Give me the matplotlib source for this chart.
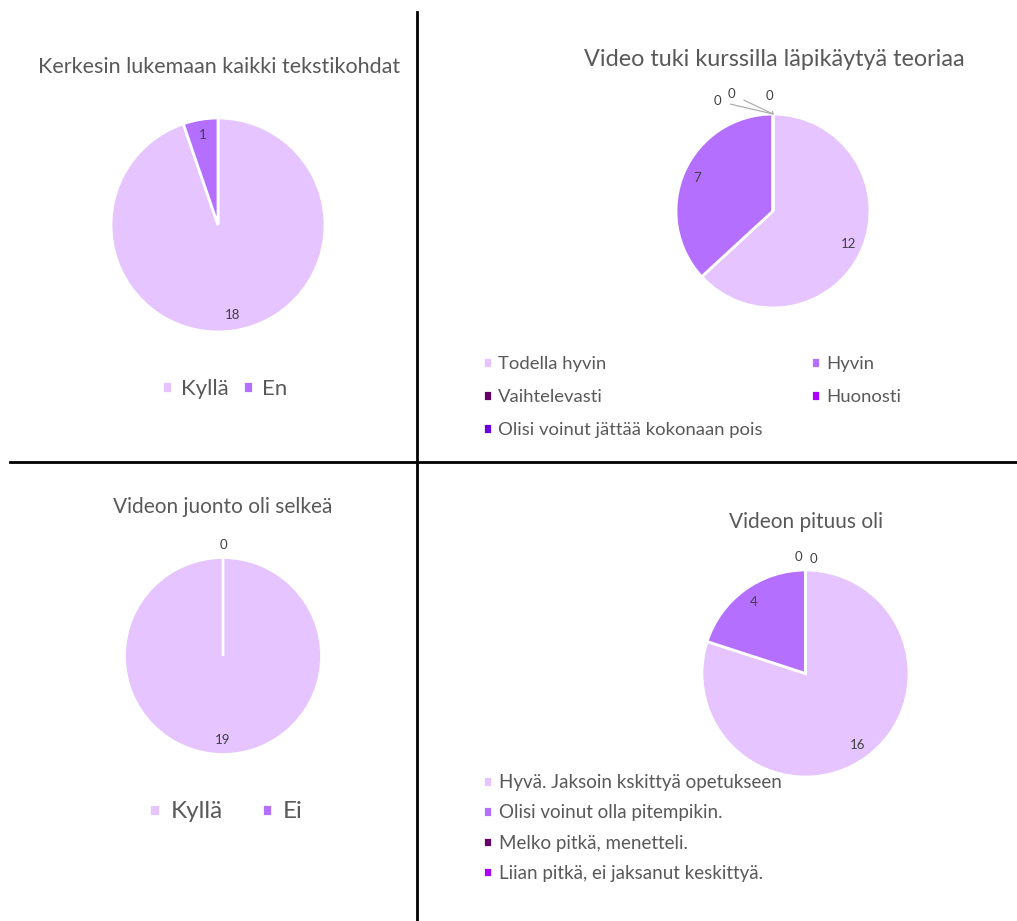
import matplotlib
matplotlib.use("Agg")
import matplotlib.pyplot as plt
from matplotlib.lines import Line2D
import numpy as np

plt.rcParams['font.family'] = ['Lato', 'DejaVu Sans']

W, H = 1017, 921
GRAY = '#595959'
LABEL = '#404040'

# data
titles = ["Kerkesin lukemaan kaikki tekstikohdat",
          "Video tuki kurssilla läpikäytyä teoriaa",
          "Videon juonto oli selkeä",
          "Videon pituus oli"]

cats1 = ["Kyllä", "En"]
vals1 = [18, 1]

cats2 = ["Todella hyvin", "Hyvin", "Vaihtelevasti", "Huonosti",
         "Olisi voinut jättää kokonaan pois"]
vals2 = [12, 7, 0, 0, 0]

cats3 = ["Kyllä", "Ei"]
vals3 = [19, 0]

cats4 = ["Hyvä. Jaksoin kskittyä opetukseen", "Olisi voinut olla pitempikin.",
         "Melko pitkä, menetteli.", "Liian pitkä, ei jaksanut keskittyä."]
vals4 = [16, 4, 0, 0]

colors = ['#E6C4FF', '#B56FFF', '#660066', '#AA00FF', '#6A00E0']


def fx(x):
    return x / W


def fy(y):
    return 1 - y / H


def pie_at(fig, cx, cy, r, vals, zero_offsets=None, leader=False):
    ax = fig.add_axes([fx(cx - r), fy(cy + r), 2 * r / W, 2 * r / H])
    wedges, _ = ax.pie(vals, colors=colors[:len(vals)], startangle=90,
                       counterclock=False, radius=1,
                       wedgeprops=dict(edgecolor='white', linewidth=2))
    ax.set_xlim(-1, 1)
    ax.set_ylim(-1, 1)
    ax.set_aspect('equal')
    ax.axis('off')
    zi = 0
    for w, v in zip(wedges, vals):
        ang = np.deg2rad((w.theta1 + w.theta2) / 2)
        if v > 0:
            ax.text(0.85 * np.cos(ang), 0.85 * np.sin(ang), str(v),
                    ha='center', va='center', fontsize=9.5, color=LABEL)
        elif zero_offsets is not None:
            dx, dy = zero_offsets[zi]
            zi += 1
            ax.annotate(str(v), xy=(np.cos(ang), np.sin(ang)),
                        xytext=(dx * 0.72, dy * 0.72), textcoords='offset points',
                        ha='center', va='center', fontsize=9.5, color=LABEL,
                        annotation_clip=False,
                        arrowprops=dict(arrowstyle='-', color='#A6A6A6', lw=0.8,
                                        shrinkA=5, shrinkB=0) if leader else None)
    return ax, wedges


fig = plt.figure(figsize=(W / 100, H / 100), dpi=100)

# dividing lines
fig.add_artist(Line2D([fx(417), fx(417)], [fy(12), fy(921)], color='black', lw=2))
fig.add_artist(Line2D([fx(10), fx(1017)], [fy(462), fy(462)], color='black', lw=2))

# titles
fig.text(fx(219), fy(67), titles[0], ha='center', va='center', fontsize=15.5, color=GRAY)
fig.text(fx(774), fy(60), titles[1], ha='center', va='center', fontsize=16.8, color=GRAY)
fig.text(fx(223), fy(507), titles[2], ha='center', va='center', fontsize=15, color=GRAY)
fig.text(fx(806), fy(522), titles[3], ha='center', va='center', fontsize=15, color=GRAY)

# pie 1
ax1, w1 = pie_at(fig, 218, 225, 107, vals1)
fig.legend(w1, cats1, loc='center', bbox_to_anchor=(fx(225), fy(389)), ncol=2,
           frameon=False, fontsize=16, labelcolor=GRAY, handlelength=0.45,
           handleheight=0.45, handletextpad=0.4, columnspacing=0.65)

# pie 2
ax2, w2 = pie_at(fig, 773, 211, 97, vals2,
                 zero_offsets=[(-56, 13), (-42, 20), (-4, 18)], leader=True)
order = [0, 2, 4, 1, 3]
fig.legend([w2[i] for i in order], [cats2[i] for i in order], loc='center left',
           bbox_to_anchor=(fx(466), fy(397)), ncol=2, frameon=False, fontsize=13.3,
           labelcolor=GRAY, handlelength=0.5, handleheight=0.5,
           handletextpad=0.35, columnspacing=2.6, labelspacing=0.93)

# pie 3
ax3, w3 = pie_at(fig, 223, 656, 98.5, vals3, zero_offsets=[(0, 13)])
fig.legend(w3, cats3, loc='center', bbox_to_anchor=(fx(226), fy(812)), ncol=2,
           frameon=False, fontsize=17.5, labelcolor=GRAY, handlelength=0.42,
           handleheight=0.42, handletextpad=0.45, columnspacing=1.6)

# pie 4
ax4, w4 = pie_at(fig, 805.5, 673.5, 103.5, vals4, zero_offsets=[(-7, 13), (8, 11)])
fig.legend(w4, cats4, loc='center left', bbox_to_anchor=(fx(466), fy(828)), ncol=1,
           frameon=False, fontsize=13.5, labelcolor=GRAY, handlelength=0.5,
           handleheight=0.5, handletextpad=0.35, labelspacing=0.7)

fig.savefig('out.png', dpi=100, facecolor='white')
